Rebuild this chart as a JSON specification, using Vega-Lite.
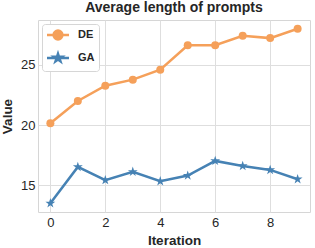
{
  "$schema": "https://vega.github.io/schema/vega-lite/v6.json",
  "autosize": {"type": "none"},
  "padding": {"left": 38, "top": 20, "right": 5, "bottom": 36},
  "width": 272,
  "height": 192,
  "background": "white",
  "title": {"text": "Average length of prompts", "font": "Liberation Sans", "fontSize": 14, "fontWeight": "bold", "color": "#262626", "offset": 5, "anchor": "middle"},
  "config": {
    "view": {"stroke": "#d6d6d6", "strokeWidth": 1},
    "axis": {
      "domain": false, "ticks": false, "grid": true, "gridColor": "#dedede", "gridWidth": 1,
      "labelFont": "Liberation Sans", "labelFontSize": 13, "labelColor": "#262626",
      "titleFont": "Liberation Sans", "titleFontSize": 13.5, "titleFontWeight": "bold", "titleColor": "#262626"
    }
  },
  "data": {"values": [
    {"Iteration": 0, "Value": 20.15, "Series": "DE"},
    {"Iteration": 1, "Value": 22.0, "Series": "DE"},
    {"Iteration": 2, "Value": 23.27, "Series": "DE"},
    {"Iteration": 3, "Value": 23.77, "Series": "DE"},
    {"Iteration": 4, "Value": 24.6, "Series": "DE"},
    {"Iteration": 5, "Value": 26.63, "Series": "DE"},
    {"Iteration": 6, "Value": 26.63, "Series": "DE"},
    {"Iteration": 7, "Value": 27.42, "Series": "DE"},
    {"Iteration": 8, "Value": 27.22, "Series": "DE"},
    {"Iteration": 9, "Value": 28.0, "Series": "DE"},
    {"Iteration": 0, "Value": 13.5, "Series": "GA"},
    {"Iteration": 1, "Value": 16.52, "Series": "GA"},
    {"Iteration": 2, "Value": 15.42, "Series": "GA"},
    {"Iteration": 3, "Value": 16.12, "Series": "GA"},
    {"Iteration": 4, "Value": 15.33, "Series": "GA"},
    {"Iteration": 5, "Value": 15.8, "Series": "GA"},
    {"Iteration": 6, "Value": 17.02, "Series": "GA"},
    {"Iteration": 7, "Value": 16.6, "Series": "GA"},
    {"Iteration": 8, "Value": 16.27, "Series": "GA"},
    {"Iteration": 9, "Value": 15.5, "Series": "GA"}
  ]},
  "encoding": {
    "x": {"field": "Iteration", "type": "quantitative", "scale": {"domain": [-0.45, 9.45], "nice": false, "zero": false},
          "axis": {"values": [0, 2, 4, 6, 8], "labelPadding": 4, "titlePadding": 4}},
    "y": {"field": "Value", "type": "quantitative", "scale": {"domain": [12.775, 28.725], "nice": false, "zero": false},
          "axis": {"values": [15, 20, 25], "labelPadding": 3, "titlePadding": 6}},
    "color": {"field": "Series", "type": "nominal", "scale": {"domain": ["DE", "GA"], "range": ["#F5A05A", "#4682B4"]},
      "legend": {"title": null, "orient": "top-left", "offset": 4, "padding": 4, "cornerRadius": 3,
           "strokeColor": "#d6d6d6", "fillColor": "white",
           "symbolSize": 121, "symbolStrokeWidth": 2.5, "symbolOffset": 5, "labelOffset": 13, "rowPadding": 3,
           "labelFont": "Liberation Sans", "labelFontSize": 11, "labelFontWeight": "bold", "labelColor": "#262626",
           "encode": {"symbols": {"update": {
             "shape": [{"test": "datum.value === 'DE'", "value": "M-2,0H2M0.8,0A0.8,0.8 0 1,1 -0.8,0A0.8,0.8 0 1,1 0.8,0Z"}, {"value": "M-2,0H2M0,-0.75L0.168,-0.232L0.713,-0.232L0.273,0.088L0.441,0.607L0,0.287L-0.441,0.607L-0.273,0.088L-0.713,-0.232L-0.168,-0.232Z"}],
             "fill": [{"test": "datum.value === 'DE'", "value": "#F5A05A"}, {"value": "#4682B4"}],
             "stroke": [{"test": "datum.value === 'DE'", "value": "#F5A05A"}, {"value": "#4682B4"}],
             "strokeWidth": {"value": 2.5}
           }}}
      }}
  },
  "layer": [
    {"mark": {"type": "line", "strokeWidth": 2.5}, "encoding": {}},
    {"transform": [{"filter": "datum.Series === 'DE'"}],
     "mark": {"type": "point", "filled": true, "opacity": 1, "shape": "circle", "size": 64}},
    {"transform": [{"filter": "datum.Series === 'GA'"}],
     "mark": {"type": "point", "filled": true, "opacity": 1, "size": 64, "shape": "M0,-1.3L0.292,-0.402L1.236,-0.402L0.472,0.153L0.764,1.052L0,0.497L-0.764,1.052L-0.472,0.153L-1.236,-0.402L-0.292,-0.402Z"}}
  ]
}
